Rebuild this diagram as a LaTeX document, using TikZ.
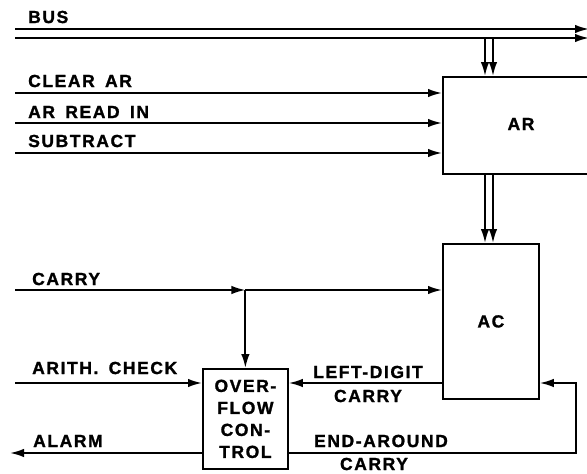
\documentclass[tikz,border=0pt]{standalone}
\usepackage{fontspec}
\setmainfont{Liberation Sans}
\newfontfamily\labfont[LetterSpace=9,WordSpace=1.6,FakeBold=1.3]{Liberation Sans Bold}
\usetikzlibrary{arrows.meta,calc}
\tikzset{
  blk/.style={draw, line width=1.8pt, inner sep=0pt, anchor=north west},
  lab/.style={font=\labfont\fontsize{17.5}{22}\selectfont, inner sep=0pt},
  wire/.style={line width=1.9pt},
  arr/.style={wire, -{Latex[length=14pt,width=8.5pt]}},
}
\begin{document}
\begin{tikzpicture}[x=1pt,y=-1pt]
\useasboundingbox (0,0) rectangle (587,474);
\clip (0,0) rectangle (587,474);
% blocks
\node[blk, minimum width=158pt, minimum height=97pt] (AR) at (442,76) {};
\node[lab] at (521,124) {AR};
\node[blk, minimum width=96pt, minimum height=155pt] (AC) at (442,243) {};
\node[lab] at (AC.center) {AC};
\node[blk, minimum width=85pt, minimum height=100pt] (OF) at (202,368) {};
\node[lab, align=center] at (OF.center) {OVER-\\FLOW\\CON-\\TROL};
% bus
\coordinate (b1l) at (15,29); \coordinate (b1r) at (589,29);
\coordinate (b2l) at (15,38); \coordinate (b2r) at (589,38);
\draw[arr] (b1l) -- (b1r);
\draw[arr] (b2l) -- (b2r);
\node[lab, anchor=west] (busl) at (28,17) {BUS};
% bus to AR
\coordinate (d1) at ($(AR.north west)+(43,0)$);
\coordinate (d2) at ($(AR.north west)+(51,0)$);
\draw[arr] (d1 |- b2l) -- (d1);
\draw[arr] (d2 |- b2l) -- (d2);
% AR to AC
\coordinate (e1) at ($(AC.north west)+(43,0)$);
\coordinate (e2) at ($(AC.north west)+(51,0)$);
\draw[arr] (e1 |- AR.south) -- (e1);
\draw[arr] (e2 |- AR.south) -- (e2);
% AR inputs
\coordinate (clr) at (15,93);
\coordinate (rdin) at (15,123);
\coordinate (sub) at (15,153);
\draw[arr] (clr) -- (clr -| AR.west);
\draw[arr] (rdin) -- (rdin -| AR.west);
\draw[arr] (sub) -- (sub -| AR.west);
\node[lab, anchor=west] (clrl) at (28,81) {CLEAR AR};
\node[lab, anchor=west] (rdinl) at (28,112) {AR READ IN};
\node[lab, anchor=west] (subl) at (28,141) {SUBTRACT};
% carry
\coordinate (carry) at (15,290);
\coordinate (jn) at (OF.north |- carry);
\draw[arr] (carry) -- (jn);
\draw[arr] (jn) -- (jn -| AC.west);
\draw[arr] (jn) -- (OF.north);
\node[lab, anchor=west] (carryl) at (32,279) {CARRY};
% arith check
\coordinate (arith) at (15,383);
\draw[arr] (arith) -- (arith -| OF.west);
\node[lab, anchor=west] (arithl) at (32,368) {ARITH. CHECK};
% left-digit carry
\draw[arr] (AC.west |- arith) -- (OF.east |- arith);
\node[lab] (ldl1) at (368,372) {LEFT-DIGIT};
\node[lab] (ldl2) at (368,396) {CARRY};
% end-around carry
\coordinate (ea) at (576,453);
\draw[arr] (OF.east |- ea) -- (ea) |- (AC.east |- arith);
\node[lab] (eal1) at (381,441) {END-AROUND};
\node[lab] (eal2) at (374,464) {CARRY};
% alarm
\coordinate (alarm) at (10,453);
\draw[arr] (OF.west |- ea) -- (alarm);
\node[lab, anchor=west] (alarml) at (33,441) {ALARM};
\end{tikzpicture}
\end{document}
